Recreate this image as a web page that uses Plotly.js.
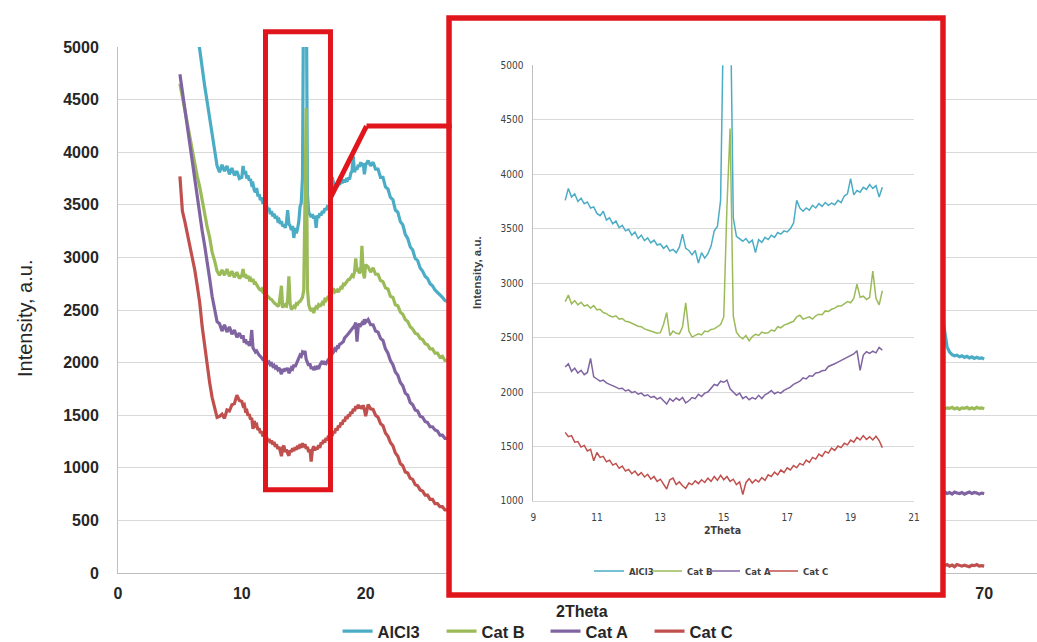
<!DOCTYPE html>
<html>
<head>
<meta charset="utf-8">
<script src="https://cdn.plot.ly/plotly-3.0.1.min.js"></script>
<style>html,body{margin:0;padding:0;background:#fff;}#chart{width:1037px;height:642px;}</style>
</head>
<body>
<div id="chart"></div>
<script>
// ---------- data ----------
const seriesNames = ["AlCl3", "Cat B", "Cat A", "Cat C"];
const seriesColors = ["#4BACC6", "#9BBB59", "#8064A2", "#C0504D"];

// 2Theta grids
const thetaLow = [5.0,5.2,5.4,5.6,5.8,6.0,6.2,6.4,6.6,6.8,7.0,7.2,7.4,7.6,7.8,8.0,8.2,8.4,8.6,8.8,9.0,9.2,9.4,9.6,9.8];
const thetaInset = [10.0,10.1,10.2,10.3,10.4,10.5,10.6,10.7,10.8,10.9,
  11.0,11.1,11.2,11.3,11.4,11.5,11.6,11.7,11.8,11.9,
  12.0,12.1,12.2,12.3,12.4,12.5,12.6,12.7,12.8,12.9,
  13.0,13.1,13.2,13.3,13.4,13.5,13.6,13.7,13.8,13.9,
  14.0,14.1,14.2,14.3,14.4,14.5,14.6,14.7,14.8,14.9,
  15.0,15.1,15.2,15.3,15.4,15.5,15.6,15.7,15.8,15.9,
  16.0,16.1,16.2,16.3,16.4,16.5,16.6,16.7,16.8,16.9,
  17.0,17.1,17.2,17.3,17.4,17.5,17.6,17.7,17.8,17.9,
  18.0,18.1,18.2,18.3,18.4,18.5,18.6,18.7,18.8,18.9,
  19.0,19.1,19.2,19.3,19.4,19.5,19.6,19.7,19.8,19.9,20.0];
const thetaHigh = [20.2,20.4,20.6,20.8,21.0,21.2,21.4,21.6,21.8,22.0,22.2,22.4,22.6,22.8,23.0,23.2,23.4,23.6,23.8,24.0,24.2,24.4,24.6,24.8,25.0,25.2,25.4,25.6,25.8,26.0,26.2,26.4,26.6];
const thetaTail = [66.6,66.8,67.0,67.2,67.4,67.6,67.8,68.0,68.2,68.4,68.6,68.8,69.0,69.2,69.4,69.6,69.8,70.0];

// AlCl3
const alcl3Low = [null,null,null,null,null,null,null,5150,4960,4800,4630,4480,4330,4170,4000,3870,3810,3880,3820,3870,3790,3850,3780,3820,3750];
const alcl3Inset = [3760,3870,3790,3820,3750,3780,3730,3745,3690,3700,
  3640,3620,3660,3580,3600,3545,3570,3510,3530,3480,
  3495,3440,3470,3410,3440,3390,3415,3370,3395,3350,
  3360,3320,3345,3295,3310,3280,3330,3450,3320,3300,
  3260,3300,3185,3280,3230,3270,3340,3480,3520,3760,
  5600,8000,5800,3600,3430,3410,3385,3410,3370,3395,
  3280,3400,3375,3420,3400,3440,3420,3465,3450,3480,
  3470,3500,3550,3760,3690,3660,3690,3670,3715,3690,
  3730,3705,3740,3715,3735,3720,3760,3740,3800,3820,
  3960,3810,3850,3835,3880,3860,3905,3870,3895,3790,3880];
const alcl3High = [3920,3870,3905,3840,3840,3760,3760,3670,3650,3570,3550,3450,3430,3340,3310,3220,3180,3100,3070,2990,2970,2900,2870,2820,2800,2750,2730,2690,2670,2640,2620,2590,2580];
const alcl3Tail = [2450,2280,2150,2100,2075,2065,2070,2055,2065,2050,2060,2045,2055,2040,2050,2040,2045,2035];

// Cat B
const catBLow = [4650,4520,4410,4270,4170,4030,3910,3770,3670,3530,3430,3290,3190,3050,2970,2870,2830,2880,2830,2890,2820,2870,2810,2860,2800];
const catBInset = [2830,2890,2810,2840,2800,2825,2790,2800,2770,2795,
  2755,2760,2730,2720,2700,2690,2700,2670,2675,2650,
  2645,2630,2620,2605,2600,2580,2570,2560,2550,2540,
  2545,2620,2730,2520,2560,2540,2535,2600,2820,2560,
  2505,2520,2535,2525,2560,2555,2575,2580,2600,2620,
  2690,3700,4420,2700,2550,2510,2490,2520,2470,2510,
  2530,2520,2550,2540,2545,2570,2560,2600,2590,2615,
  2625,2640,2650,2690,2705,2670,2680,2690,2670,2700,
  2715,2710,2745,2740,2760,2770,2790,2790,2810,2830,
  2820,2860,2990,2870,2880,2850,2870,3110,2860,2800,2930];
const catBHigh = [2910,2860,2900,2840,2840,2780,2770,2710,2700,2630,2620,2550,2540,2480,2460,2410,2390,2340,2320,2280,2270,2230,2220,2180,2170,2130,2130,2090,2090,2050,2060,2020,2020];
const catBTail = [1575,1560,1570,1565,1575,1560,1570,1555,1570,1565,1575,1560,1570,1560,1575,1565,1570,1560];

// Cat A
const catALow = [4740,4570,4430,4240,4090,3910,3770,3580,3430,3250,3110,2930,2800,2630,2510,2390,2370,2300,2360,2290,2340,2270,2310,2240,2280];
const catAInset = [2230,2260,2190,2220,2175,2200,2160,2180,2310,2140,
  2120,2100,2110,2085,2070,2060,2045,2030,2035,2010,
  2020,1995,2005,1980,1990,1965,1975,1950,1960,1935,
  1950,1920,1890,1940,1915,1945,1925,1950,1900,1920,
  1950,1940,1980,1960,1990,2000,2040,2070,2060,2100,
  2090,2110,2030,2000,1970,1990,1940,1960,1930,1950,
  1935,1970,1940,1975,1990,2015,1985,2000,1990,2015,
  2030,2045,2070,2085,2100,2130,2120,2150,2145,2175,
  2180,2195,2200,2235,2245,2260,2275,2290,2300,2320,
  2330,2350,2380,2200,2340,2370,2355,2375,2360,2410,2385];
const catAHigh = [2410,2360,2360,2300,2290,2230,2210,2130,2090,2020,1980,1910,1880,1810,1780,1710,1690,1620,1600,1550,1540,1490,1480,1440,1430,1390,1390,1360,1350,1310,1310,1280,1280];
const catATail = [760,770,755,765,750,770,760,755,765,750,760,770,755,765,760,750,760,755];

// Cat C
const catCLow = [3770,3440,3340,3230,3130,2990,2880,2730,2570,2340,2160,1940,1810,1670,1570,1480,1490,1510,1470,1550,1540,1600,1610,1690,1640];
const catCInset = [1630,1590,1600,1540,1545,1495,1510,1460,1475,1370,
  1445,1400,1410,1360,1375,1330,1345,1300,1320,1275,
  1290,1250,1275,1235,1260,1220,1245,1200,1225,1180,
  1200,1160,1110,1195,1210,1150,1175,1140,1115,1165,
  1150,1185,1160,1195,1170,1210,1180,1225,1190,1235,
  1195,1225,1180,1200,1150,1175,1060,1170,1205,1165,
  1195,1175,1215,1190,1240,1225,1265,1240,1285,1260,
  1305,1285,1325,1305,1345,1330,1375,1355,1400,1385,
  1430,1410,1455,1440,1485,1465,1505,1490,1530,1515,
  1560,1540,1585,1560,1600,1565,1590,1560,1595,1555,1490];
const catCHigh = [1600,1560,1555,1500,1480,1420,1400,1330,1300,1240,1210,1140,1110,1040,1020,960,950,900,890,840,830,790,780,740,740,700,700,660,660,630,630,600,600];
const catCTail = [75,70,80,65,75,60,80,70,65,75,70,60,75,70,80,65,70,65];

// ---------- build traces ----------
const lowSets = [alcl3Low, catBLow, catALow, catCLow];
const insetSets = [alcl3Inset, catBInset, catAInset, catCInset];
const highSets = [alcl3High, catBHigh, catAHigh, catCHigh];
const tailSets = [alcl3Tail, catBTail, catATail, catCTail];

const mainX = thetaLow.concat(thetaInset, thetaHigh);
const traces = [];
seriesNames.forEach((name, i) => {
  traces.push({
    type: "scatter", mode: "lines", name: name, legendgroup: name,
    x: mainX, y: lowSets[i].concat(insetSets[i], highSets[i]),
    xaxis: "x", yaxis: "y",
    line: {color: seriesColors[i], width: 3.2}, connectgaps: false,
    hoverinfo: "skip"
  });
});
seriesNames.forEach((name, i) => {
  traces.push({
    type: "scatter", mode: "lines", name: name, legendgroup: name, showlegend: false,
    x: thetaTail, y: tailSets[i],
    xaxis: "x3", yaxis: "y",
    line: {color: seriesColors[i], width: 3.2}, hoverinfo: "skip"
  });
});
seriesNames.forEach((name, i) => {
  traces.push({
    type: "scatter", mode: "lines", name: name, legend: "legend2",
    x: thetaInset, y: insetSets[i],
    xaxis: "x2", yaxis: "y2",
    line: {color: seriesColors[i], width: 1.5}, hoverinfo: "skip"
  });
});
// empty spacer entry so the last inset-legend label is not clipped
traces.push({
  type: "scatter", mode: "lines", name: " ", legend: "legend2",
  x: [null], y: [null], xaxis: "x2", yaxis: "y2",
  line: {color: "rgba(0,0,0,0)", width: 0}, hoverinfo: "skip"
});

// ---------- layout ----------
const F = "Liberation Sans, Arial, sans-serif";
const FN = "Liberation Sans Narrow, Arial Narrow, DejaVu Sans Condensed, Liberation Sans, sans-serif";
const RED = "#E0161C";
const GRID = "#d9d9d9";
const AXL = "#bfbfbf";

const layout = {
  width: 1037, height: 642,
  margin: {l: 118, r: 0, t: 47, b: 69},
  paper_bgcolor: "#ffffff", plot_bgcolor: "rgba(0,0,0,0)",
  font: {family: F, color: "#262626"},
  showlegend: true,
  xaxis: {
    domain: [0, 0.358], range: [0, 26.57], anchor: "y",
    tickvals: [0, 10, 20], showgrid: false, zeroline: false,
    showline: true, linecolor: AXL, linewidth: 1,
    ticks: "outside", ticklen: 6, tickcolor: "rgba(0,0,0,0)",
    tickfont: {family: F, size: 16, weight: "bold", color: "#262626"}
  },
  xaxis3: {
    domain: [0.8999, 1], range: [66.83, 74.27], anchor: "y",
    tickvals: [70], showgrid: false, zeroline: false,
    showline: true, linecolor: AXL, linewidth: 1,
    ticks: "outside", ticklen: 6, tickcolor: "rgba(0,0,0,0)",
    tickfont: {family: F, size: 16, weight: "bold", color: "#262626"}
  },
  yaxis: {
    domain: [0, 1], range: [0, 5000], anchor: "x",
    tick0: 0, dtick: 500, showgrid: true, gridcolor: GRID, gridwidth: 1, zeroline: false,
    showline: true, linecolor: AXL, linewidth: 1,
    ticks: "outside", ticklen: 15, tickcolor: "rgba(0,0,0,0)",
    tickfont: {family: F, size: 16, weight: "bold", color: "#262626"}
  },
  xaxis2: {
    domain: [0.4521, 0.8662], range: [9, 21], anchor: "y2",
    tick0: 9, dtick: 2, showgrid: false, zeroline: false,
    showline: true, linecolor: GRID, linewidth: 1,
    ticks: "outside", ticklen: 7, tickcolor: "rgba(0,0,0,0)",
    tickfont: {family: FN, size: 10, color: "#404040"}
  },
  yaxis2: {
    domain: [0.1369, 0.9652], range: [1000, 5000], anchor: "x2",
    tick0: 1000, dtick: 500, showgrid: true, gridcolor: GRID, gridwidth: 1, zeroline: false,
    showline: true, linecolor: AXL, linewidth: 1,
    ticks: "outside", ticklen: 7, tickcolor: "rgba(0,0,0,0)",
    tickfont: {family: FN, size: 10, color: "#404040"}
  },
  legend: {
    orientation: "h", xref: "container", yref: "container",
    x: 0.3255, xanchor: "left", y: 0.0165, yanchor: "middle",
    entrywidth: 59, entrywidthmode: "pixels",
    font: {family: F, size: 16.5, weight: "bold", color: "#262626"},
    bgcolor: "rgba(0,0,0,0)", traceorder: "normal", itemclick: false
  },
  legend2: {
    orientation: "h", x: 0.5125, xanchor: "left", y: 0.004, yanchor: "middle",
    entrywidth: 13, entrywidthmode: "pixels",
    font: {family: FN, size: 9.5, weight: "bold", color: "#404040"},
    bgcolor: "rgba(0,0,0,0)", traceorder: "normal", itemclick: false
  },
  annotations: [
    {text: "Intensity, a.u.", xref: "paper", yref: "paper", x: -0.1012, y: 0.4848,
     textangle: -90, showarrow: false, xanchor: "center", yanchor: "middle",
     font: {family: F, size: 20, color: "#262626"}},
    {text: "2Theta", xref: "paper", yref: "paper", x: 0.5049, y: -0.0741,
     showarrow: false, xanchor: "center", yanchor: "middle",
     font: {family: F, size: 16, weight: "bold", color: "#262626"}},
    {text: "Intensity, a.u.", xref: "paper", yref: "paper", x: 0.3906, y: 0.5722,
     textangle: -90, showarrow: false, xanchor: "center", yanchor: "middle",
     font: {family: F, size: 11.5, weight: "bold", color: "#404040"}},
    {text: "2Theta", xref: "paper", yref: "paper", x: 0.6583, y: 0.0817,
     showarrow: false, xanchor: "center", yanchor: "middle",
     font: {family: FN, size: 10.5, weight: "bold", color: "#404040"}}
  ],
  shapes: [
    {type: "rect", xref: "paper", yref: "paper", x0: 0.1605, x1: 0.2312, y0: 0.1584, y1: 1.0289,
     line: {color: RED, width: 5}, fillcolor: "rgba(0,0,0,0)", layer: "above"},
    {type: "line", xref: "paper", yref: "paper", x0: 0.2318, y0: 0.7155, x1: 0.2704, y1: 0.8498,
     line: {color: RED, width: 5}, layer: "above"},
    {type: "line", xref: "paper", yref: "paper", x0: 0.2704, y0: 0.8498, x1: 0.3631, y1: 0.8498,
     line: {color: RED, width: 5}, layer: "above"},
    {type: "rect", xref: "paper", yref: "paper", x0: 0.3602, x1: 0.8977, y0: -0.0418, y1: 1.0551,
     line: {color: RED, width: 5.5}, fillcolor: "rgba(0,0,0,0)", layer: "above"}
  ]
};

Plotly.newPlot("chart", traces, layout, {staticPlot: true, displayModeBar: false});
</script>
</body>
</html>
